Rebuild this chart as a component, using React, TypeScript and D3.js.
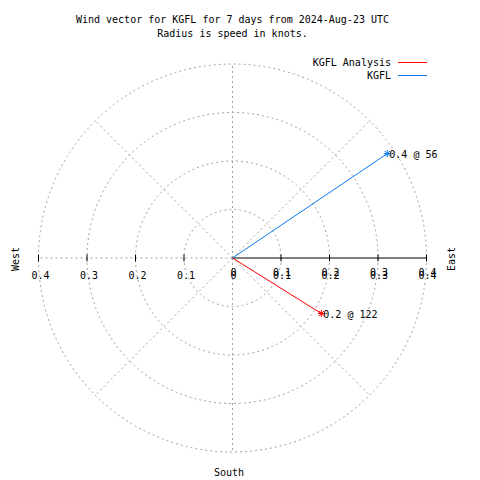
import React from "react";
import * as d3 from "d3";

const titleLines = ["Wind vector for KGFL for 7 days from 2024-Aug-23 UTC", "Radius is speed in knots."];
const ringValues = [0.1, 0.2, 0.3, 0.4];
const tickLabels = ["0.1", "0.2", "0.3", "0.4"];
const seriesNames = ["KGFL Analysis", "KGFL"];
const seriesColors = ["#ff0000", "#0a7cf0"];
const seriesSpeed = [0.216, 0.385];
const seriesDir = [122, 56];
const seriesLabels = ["0.2 @ 122", "0.4 @ 56"];
const spokeAngles = [0, 45, 90, 135, 180, 225, 270, 315];

const W = 480, H = 480;
const cx = 232.5, cy = 258;
const font = "'DejaVu Sans Mono', monospace";

export default function App() {
  const r = d3.scaleLinear().domain([0, 0.4]).range([0, 194]);
  const pt = (speed: number, deg: number) => {
    const a = (deg * Math.PI) / 180;
    return [cx + r(speed) * Math.sin(a), cy - r(speed) * Math.cos(a)];
  };
  const grid = "#a0a0a0";
  const dash = "2,3";
  return (
    <svg width={W} height={H} style={{ position: "absolute", left: 0, top: 0, background: "#fff" }}
      fontFamily={font} fontSize={10}>
      <rect width={W} height={H} fill="#fff" />
      {titleLines.map((t, i) => (
        <text key={i} x={cx} y={23 + i * 14} textAnchor="middle">{t}</text>
      ))}
      {ringValues.map((v, i) => (
        <circle key={i} cx={cx} cy={cy} r={r(v)} fill="none" stroke={grid} strokeDasharray={dash} />
      ))}
      {spokeAngles.map((a, i) => {
        if (a === 90) return null;
        const [x, y] = pt(0.4, a);
        return <line key={i} x1={cx} y1={cy} x2={x} y2={y} stroke={grid} strokeDasharray={dash} />;
      })}
      <line x1={cx} y1={cy} x2={cx + r(0.4)} y2={cy} stroke="#000" />
      {ringValues.map((v, i) => (
        <g key={i}>
          <line x1={cx + r(v)} x2={cx + r(v)} y1={cy - 3.5} y2={cy + 3.5} stroke="#000" />
          <line x1={cx - r(v)} x2={cx - r(v)} y1={cy - 3.5} y2={cy + 3.5} stroke="#000" />
          <text x={cx - r(v) + 2} y={279} textAnchor="middle">{tickLabels[i]}</text>
          <text x={cx + r(v) + 1} y={276} textAnchor="middle">{tickLabels[i]}</text>
          <text x={cx + r(v) + 1} y={279} textAnchor="middle">{tickLabels[i]}</text>
        </g>
      ))}
      <text x={cx + 1} y={276} textAnchor="middle">0</text>
      <text x={cx + 1} y={279} textAnchor="middle">0</text>
      <text transform={`translate(19,259) rotate(-90)`} textAnchor="middle">West</text>
      <text transform={`translate(455,259) rotate(-90)`} textAnchor="middle">East</text>
      <text x={229} y={476} textAnchor="middle">South</text>
      {seriesNames.map((n, i) => {
        const [x, y] = pt(seriesSpeed[i], seriesDir[i]);
        const c = seriesColors[i];
        const s = 3.5;
        return (
          <g key={i}>
            <line x1={cx} y1={cy} x2={x} y2={y} stroke={c} />
            <line x1={x - s} x2={x + s} y1={y} y2={y} stroke={c} />
            <line x1={x} x2={x} y1={y - s} y2={y + s} stroke={c} />
            <line x1={x - s * 0.75} x2={x + s * 0.75} y1={y - s * 0.75} y2={y + s * 0.75} stroke={c} />
            <line x1={x - s * 0.75} x2={x + s * 0.75} y1={y + s * 0.75} y2={y - s * 0.75} stroke={c} />
            <text x={x + 2} y={y + 4}>{seriesLabels[i]}</text>
            <text x={391} y={66 + i * 13} textAnchor="end">{n}</text>
            <line x1={398} x2={427} y1={62.5 + i * 13} y2={62.5 + i * 13} stroke={c} />
          </g>
        );
      })}
    </svg>
  );
}
